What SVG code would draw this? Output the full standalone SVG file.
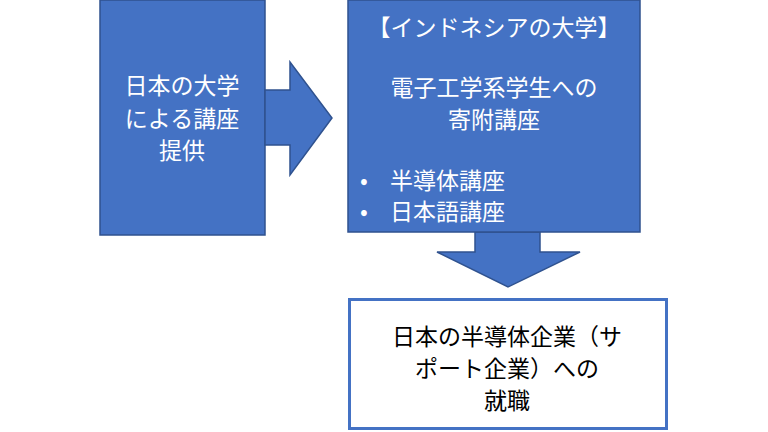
<svg xmlns="http://www.w3.org/2000/svg" width="768" height="432" viewBox="0 0 768 432">
<style>
.b{fill:#4472C4;stroke:#2F528F;stroke-width:1.5}
text{font-family:"Noto Sans CJK JP",sans-serif;font-size:23px}
.w{fill:#fff}
.k{fill:#000}
</style>
<rect width="768" height="432" fill="#fff"/>
<g id="left"><rect class="b" x="100" y="0" width="165" height="235"/>
<text class="w" text-anchor="middle"><tspan x="182" y="94">日本の大学</tspan><tspan x="182" y="127">による講座</tspan><tspan x="182" y="159">提供</tspan></text></g>
<g id="connectors">
<polygon class="b" points="265,90 290,90 290,62 332,118 290,175 290,145 265,145"/>
<polygon class="b" points="475,232 540,232 540,252 580,252 508,287 437,252 475,252"/>
</g>
<g id="right"><rect class="b" x="348" y="0" width="292" height="232"/>
<text class="w" text-anchor="middle"><tspan x="494" y="36">【インドネシアの大学】</tspan><tspan x="494" y="96">電子工学系学生への</tspan><tspan x="494" y="128">寄附講座</tspan></text>
<text class="w"><tspan x="360" y="189">•</tspan><tspan x="390" y="189">半導体講座</tspan><tspan x="360" y="220">•</tspan><tspan x="390" y="220">日本語講座</tspan></text></g>
<g id="bottom"><rect x="349.5" y="299.5" width="317" height="129" fill="#fff" stroke="#4472C4" stroke-width="3"/>
<text class="k" text-anchor="middle"><tspan x="507" y="345">日本の半導体企業（サ</tspan><tspan x="507" y="377">ポート企業）への</tspan><tspan x="507" y="409">就職</tspan></text></g>
</svg>
